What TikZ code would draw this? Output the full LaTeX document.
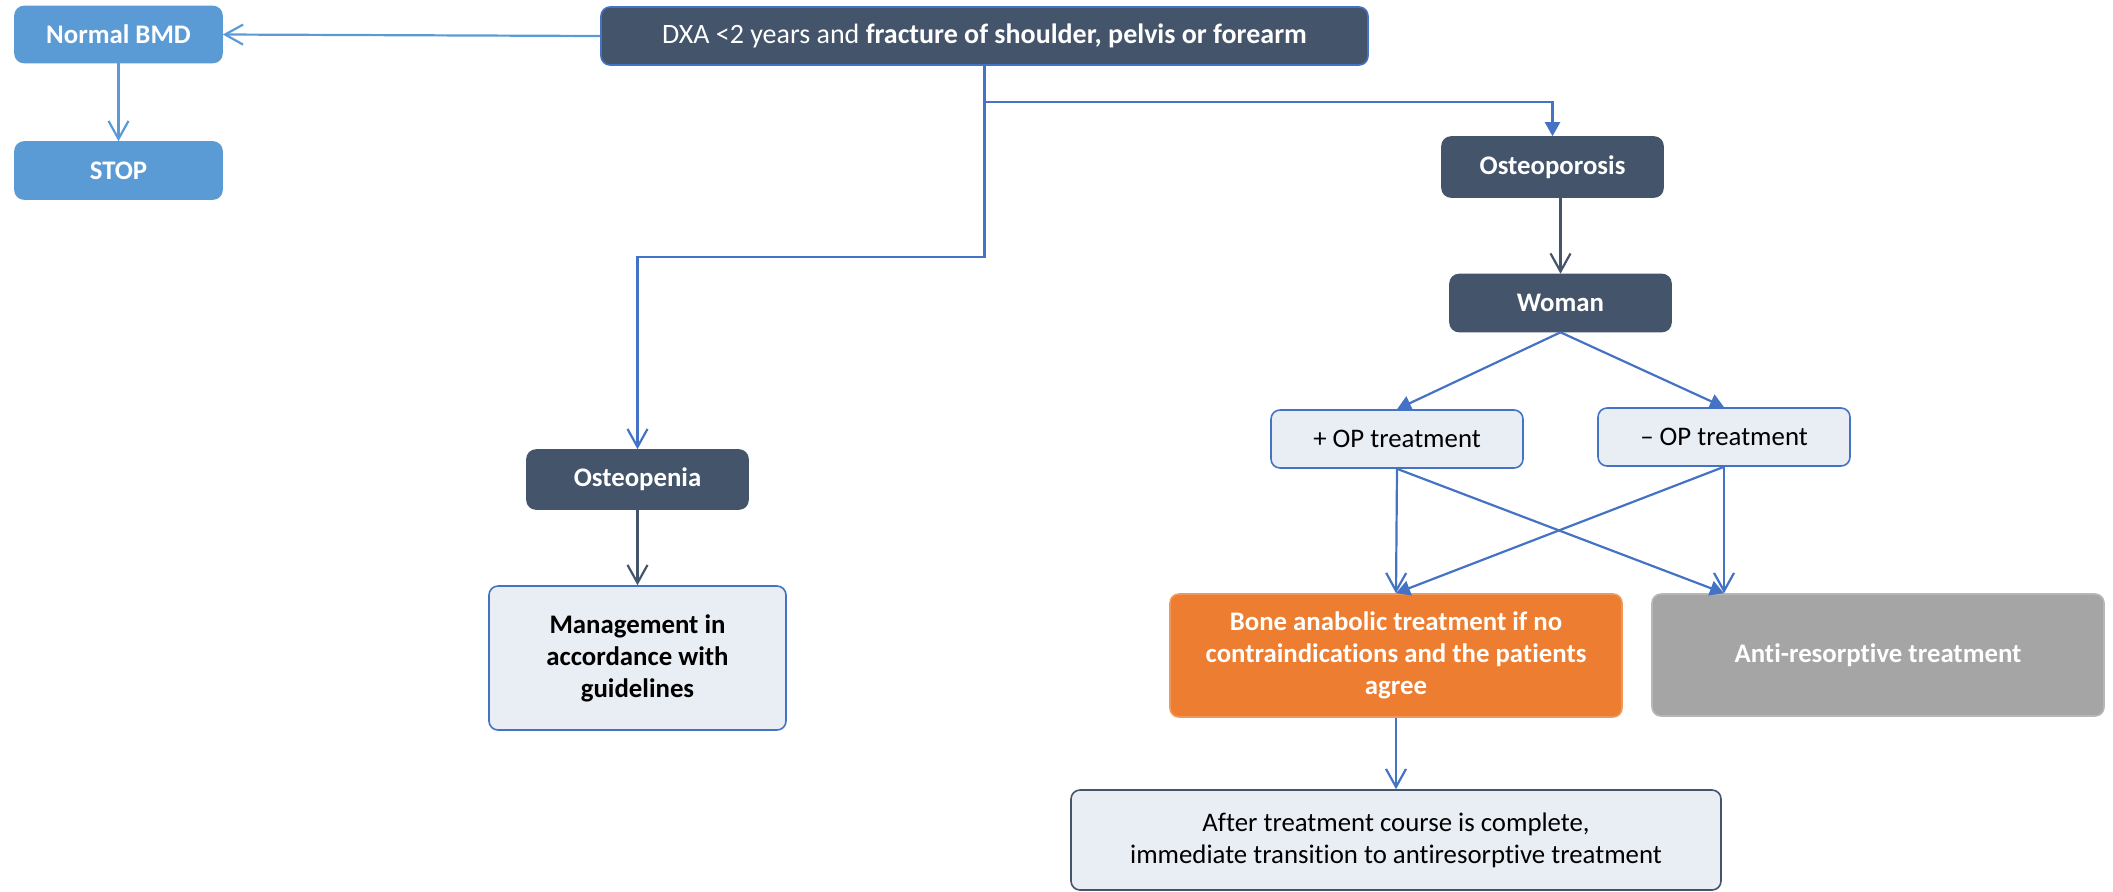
\documentclass[tikz,border=0pt]{standalone}
\usepackage{fontspec}
\setmainfont{Carlito}[Ligatures=NoCommon]
\usetikzlibrary{arrows.meta}
\definecolor{lblue}{HTML}{5B9BD5}
\definecolor{dark}{HTML}{44546A}
\definecolor{bline}{HTML}{4472C4}
\definecolor{lfill}{HTML}{E9EDF4}
\definecolor{orng}{HTML}{ED7D31}
\definecolor{gry}{HTML}{A5A5A5}
\begin{document}
\begin{tikzpicture}[x=0.5pt,y=-0.5pt,
  box/.style={rounded corners=4.5pt, inner sep=0pt, align=center, line width=0.8pt,
    font=\fontsize{13.4}{16}\selectfont},
  boxb/.style={box, font=\bfseries\fontsize{13.4}{16}\selectfont},
  lbbox/.style={boxb, fill=lblue, draw=lblue, text=white},
  dkbox/.style={boxb, fill=dark, draw=dark, text=white},
  ltbox/.style={box, fill=lfill, draw=bline, text=black},
  conn/.style={line width=1.1pt, draw=bline},
  vtip/.style={-{Straight Barb[length=9pt,width=10pt,line width=1.1pt]}},
  ttip/.style={-{Triangle[length=7pt,width=7.5pt]}}
]
\useasboundingbox (0,0) rectangle (2113,891);
% nodes
\node[lbbox, minimum width=103.5pt, minimum height=28pt] (bmd) at (118.5,34.5) {Normal BMD};
\node[lbbox, minimum width=103.5pt, minimum height=28.5pt] (stop) at (118.5,170.5) {STOP};
\node[box, fill=dark, draw=bline, text=white, font=\fontsize{14}{16}\selectfont, minimum width=383.5pt, minimum height=29pt] (dxa) at (984.5,36)
  {DXA {<}2 years and \textbf{fracture of shoulder, pelvis or forearm}};
\node[dkbox, minimum width=110.5pt, minimum height=30pt] (ostp) at (1552.5,167) {Osteoporosis};
\node[dkbox, minimum width=110.5pt, minimum height=28.5pt] (woman) at (1560.5,303) {Woman};
\node[ltbox, minimum width=126pt, minimum height=29pt] (plus) at (1397,439) {+ OP treatment};
\node[ltbox, minimum width=126pt, minimum height=29pt] (minus) at (1724,437) {-- OP treatment};
\node[dkbox, minimum width=110.5pt, minimum height=29.5pt] (open) at (637.5,479.5) {Osteopenia};
\node[ltbox, font=\bfseries\fontsize{13.4}{16}\selectfont, minimum width=148.5pt, minimum height=72pt] (mgmt) at (637.5,658)
  {Management in\\accordance with\\guidelines};
\node[boxb, fill=orng, draw=orng!80!white, text=white, minimum width=226pt, minimum height=61.5pt] (bone) at (1396,655.5)
  {Bone anabolic treatment if no\\contraindications and the patients\\agree};
\node[boxb, fill=gry, draw=gry!80!white, text=white, minimum width=226pt, minimum height=61pt] (anti) at (1878,655)
  {Anti-resorptive treatment};
\node[box, fill=lfill, draw=dark, text=black, minimum width=325pt, minimum height=50pt] (after) at (1396,840)
  {After treatment course is complete,\\immediate transition to antiresorptive treatment};
% connectors
\draw[conn, draw=lblue, vtip] (dxa.west) -- (bmd.east);
\draw[conn, draw=lblue, vtip] (bmd.south) -- (stop.north);
\draw[conn, ttip] (dxa.south) -- ++(0,36) -| (ostp.north);
\draw[conn, vtip] (dxa.south) -- ++(0,191) -| (open.north);
\draw[conn, draw=dark, vtip] (woman.north |- ostp.south) -- (woman.north);
\draw[conn, draw=dark, vtip] (open.south) -- (mgmt.north);
\draw[conn, ttip] (woman.south) -- (plus.north);
\draw[conn, ttip] (woman.south) -- (minus.north);
\draw[conn, vtip] (plus.south) -- (bone.north);
\draw[conn, ttip] (plus.south) -- (anti.north -| minus.south);
\draw[conn, vtip] (minus.south) -- (anti.north -| minus.south);
\draw[conn, ttip] (minus.south) -- (bone.north);
\draw[conn, vtip] (bone.south) -- (after.north);
\end{tikzpicture}
\end{document}
